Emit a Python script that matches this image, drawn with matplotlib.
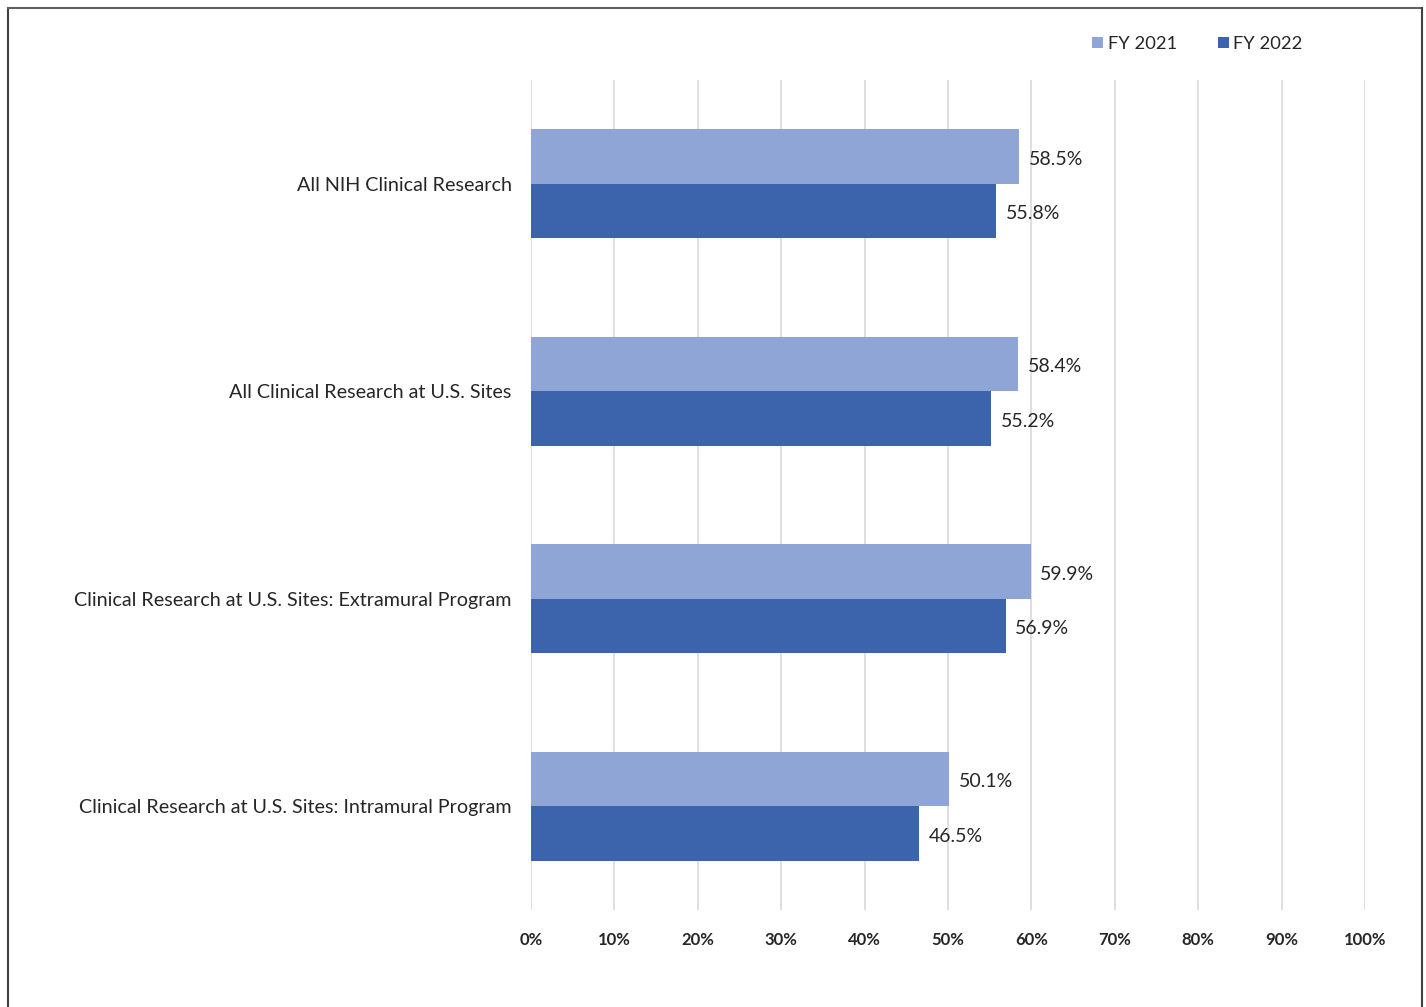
import matplotlib
matplotlib.use("Agg")
import matplotlib.pyplot as plt
import numpy as np

categories = [
    "All NIH Clinical Research",
    "All Clinical Research at U.S. Sites",
    "Clinical Research at U.S. Sites: Extramural Program",
    "Clinical Research at U.S. Sites: Intramural Program",
]
fy2021 = [58.5, 58.4, 59.9, 50.1]
fy2022 = [55.8, 55.2, 56.9, 46.5]
series_names = ["FY 2021", "FY 2022"]
tick_values = list(range(0, 101, 10))

c_light = "#8FA5D6"
c_dark = "#3C64AC"

plt.rcParams["font.family"] = ["Lato", "DejaVu Sans"]

W, H = 1426, 1007
fig = plt.figure(figsize=(W / 100, H / 100), dpi=100)
ax = fig.add_axes([531 / W, 1 - 910 / H, (1365 - 531) / W, (910 - 80) / H])

y = np.arange(len(categories))
bh = 0.262
ax.barh(y - bh / 2, fy2021, height=bh, color=c_light, label=series_names[0], zorder=3)
ax.barh(y + bh / 2, fy2022, height=bh, color=c_dark, label=series_names[1], zorder=3)

for yi, v in zip(y, fy2021):
    ax.annotate(f"{v:.1f}%", (v, yi - bh / 2), xytext=(7, -2), textcoords="offset points",
                va="center", ha="left", fontsize=14, color="#262626")
for yi, v in zip(y, fy2022):
    ax.annotate(f"{v:.1f}%", (v, yi + bh / 2), xytext=(7, -2), textcoords="offset points",
                va="center", ha="left", fontsize=14, color="#262626")

ax.set_xlim(0, 100)
ax.set_ylim(3.5, -0.5)
ax.set_xticks(tick_values)
ax.set_xticklabels([f"{t}%" for t in tick_values], fontsize=12, fontweight="bold", color="#262626")
ax.set_yticks(y)
ax.set_yticklabels(categories, fontsize=14.2, color="#262626")
ax.tick_params(axis="x", length=0, pad=16)
ax.tick_params(axis="y", length=0, pad=14)
ax.grid(axis="x", color="#D9D9D9", linewidth=1.2, zorder=0)
for s in ax.spines.values():
    s.set_visible(False)

leg = fig.legend(loc="center", bbox_to_anchor=(1197.5 / W, 1 - 44 / H), ncol=2, frameon=False,
                 fontsize=13.2, handlelength=0.6, handleheight=0.6, handletextpad=0.27,
                 columnspacing=2.2)
for t in leg.get_texts():
    t.set_color("#262626")

# outer frame (left, top, right edges)
fig.add_artist(plt.Line2D([7.5 / W, 7.5 / W], [0, 1 - 7.5 / H], transform=fig.transFigure,
                          color="#404040", linewidth=1.5))
fig.add_artist(plt.Line2D([7.5 / W, 1421.5 / W], [1 - 7.5 / H, 1 - 7.5 / H], transform=fig.transFigure,
                          color="#606060", linewidth=1.5))
fig.add_artist(plt.Line2D([1421.5 / W, 1421.5 / W], [0, 1 - 7.5 / H], transform=fig.transFigure,
                          color="#404040", linewidth=1.5))

fig.savefig("out.png", dpi=100, facecolor="white")
